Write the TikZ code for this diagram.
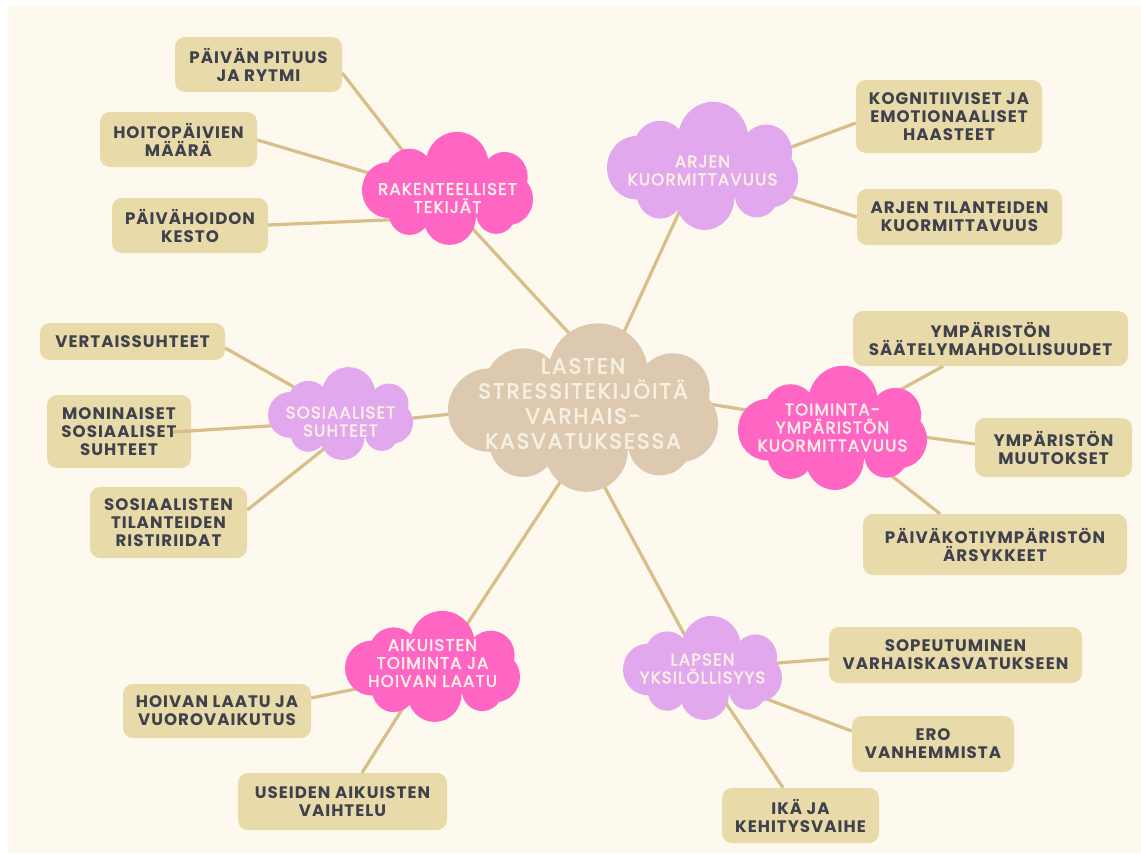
\documentclass[tikz,border=0pt]{standalone}
\usepackage{fontspec}
\setmainfont{Poppins}
\newfontfamily\boxfont[LetterSpace=6]{Poppins}
\newfontfamily\cloudfont[FakeBold=2.5,LetterSpace=7]{Poppins}
\newfontfamily\centfont[FakeBold=2.5,LetterSpace=9]{Poppins}
\usetikzlibrary{calc}
\definecolor{bgc}{HTML}{FDF9EE}
\definecolor{boxc}{HTML}{E8DAA9}
\definecolor{linec}{HTML}{D8BF8A}
\definecolor{txtc}{HTML}{3F414C}
\definecolor{pinkc}{HTML}{FF66C4}
\definecolor{lilacc}{HTML}{E2A8EE}
\definecolor{centc}{HTML}{DDC9AF}
\definecolor{ctxt}{HTML}{FCEFE6}
\definecolor{cctxt}{HTML}{F7EFE0}
\newcommand\cloudfill[4]{%
  \begin{scope}[shift={(#1)}, xscale=#2, yscale=#3/0.617]
    \fill[#4] (0.0556,-0.1296) circle[radius=0.185];
    \fill[#4] (-0.2222,-0.0802) circle[radius=0.142];
    \fill[#4] (0.333,-0.068) circle[radius=0.136];
    \fill[#4] (-0.346,0.006) circle[radius=0.154];
    \fill[#4] (0.358,0.056) circle[radius=0.142];
    \fill[#4] (-0.222,0.130) circle[radius=0.123];
    \fill[#4] (0.012,0.154) circle[radius=0.154];
    \fill[#4] (0.284,0.130) circle[radius=0.117];
    \fill[#4] (-0.346,-0.130) rectangle (0.358,0.154);
  \end{scope}}
\begin{document}
\begin{tikzpicture}[x=0.75pt,y=-0.75pt,
  bx/.style 2 args={fill=boxc, rounded corners=7.5pt, minimum width=#1*0.75pt, minimum height=#2*0.75pt, inner sep=0pt, align=center, text=txtc, font=\boxfont\bfseries\fontsize{12.5pt}{13.5pt}\selectfont},
  ctext/.style={align=center, text=ctxt, inner sep=0pt, font=\cloudfont\fontsize{12.5pt}{13.5pt}\selectfont},
  conn/.style={draw=linec, line width=2.4pt}]
\useasboundingbox (0,0) rectangle (1141,853);
\fill[white] (0,0) rectangle (1141,853);
\fill[bgc] (8,7) rectangle (1141,853);

% boxes
\node[bx={167}{55}] (b1) at (258.5,64.5) {PÄIVÄN PITUUS\\JA RYTMI};
\node[bx={157}{55}] (b2) at (178.5,139.5) {HOITOPÄIVIEN\\MÄÄRÄ};
\node[bx={156}{55}] (b3) at (190,225.5) {PÄIVÄHOIDON\\KESTO};
\node[bx={186}{73}] (b4) at (949,116.5) {KOGNITIIVISET JA\\EMOTIONAALISET\\HAASTEET};
\node[bx={205}{56}] (b5) at (959.5,217) {ARJEN TILANTEIDEN\\KUORMITTAVUUS};
\node[bx={275}{55}] (b6) at (990.5,338.5) {YMPÄRISTÖN\\SÄÄTELYMAHDOLLISUUDET};
\node[bx={157}{59}] (b7) at (1053.5,447.5) {YMPÄRISTÖN\\MUUTOKSET};
\node[bx={264}{61}] (b8) at (995,544.5) {PÄIVÄKOTIYMPÄRISTÖN\\ÄRSYKKEET};
\node[bx={253}{56}] (b9) at (955.5,655) {SOPEUTUMINEN\\VARHAISKASVATUKSEEN};
\node[bx={162}{56}] (b10) at (933,744) {ERO\\VANHEMMISTA};
\node[bx={157}{55}] (b11) at (800.5,815.5) {IKÄ JA\\KEHITYSVAIHE};
\node[bx={188}{54}] (b12) at (217,711) {HOIVAN LAATU JA\\VUOROVAIKUTUS};
\node[bx={209}{57}] (b13) at (342.5,801.5) {USEIDEN AIKUISTEN\\VAIHTELU};
\node[bx={185}{37}] (b14) at (132.5,341.5) {VERTAISSUHTEET};
\node[bx={144}{73}] (b15) at (119,431.5) {MONINAISET\\SOSIAALISET\\SUHTEET};
\node[bx={157}{71}] (b16) at (168.5,522.5) {SOSIAALISTEN\\TILANTEIDEN\\RISTIRIIDAT};

% cloud centres
\coordinate (cc) at (583,408.5);
\coordinate (rak) at (447.5,189);
\coordinate (arj) at (702.5,166.5);
\coordinate (toi) at (832.5,428.5);
\coordinate (sos) at (340.5,414);
\coordinate (lap) at (702.5,668.5);
\coordinate (aik) at (432.5,667);

% connectors
\draw[conn] ($(rak)+(12.5,26)$) -- ($(cc)+(7,-52.5)$);
\draw[conn] ($(arj)+(-21.5,41.5)$) -- ($(cc)+(35,-63.5)$);
\draw[conn] ($(toi)+(-67.5,-15.5)$) -- ($(cc)+(107,-7.5)$);
\draw[conn] ($(sos)+(54.5,6)$) -- ($(cc)+(-113,3.5)$);
\draw[conn] ($(aik)+(27.5,-32)$) -- ($(cc)+(-13,58.5)$);
\draw[conn] ($(lap)+(-12.5,-23.5)$) -- ($(cc)+(14,64.5)$);

\draw[conn] ($(b1.east)+(0,8.5)$) -- ($(rak)+(-18,-4)$);
\draw[conn] ($(b2.east)+(0,0.5)$) -- ($(rak)+(-7.5,5)$);
\draw[conn] ($(b3.east)+(0,-0.5)$) -- ($(rak)+(-7.5,28.7)$);
\draw[conn] ($(b4.west)+(0,6.5)$) -- ($(arj)+(67.5,-11.5)$);
\draw[conn] (b5.west) -- ($(arj)+(67.5,23.5)$);
\draw[conn] ($(b6.south)+(-47.5,0)$) -- ($(toi)+(37.5,-22)$);
\draw[conn] ($(b7.west)+(0,-3.5)$) -- ($(toi)+(47.5,2.5)$);
\draw[conn] ($(b8.north)+(-55,0)$) -- ($(toi)+(32.5,26.5)$);
\draw[conn] ($(b9.west)+(0,4)$) -- ($(lap)+(37.5,-2.5)$);
\draw[conn] ($(b10.west)+(0,-13)$) -- ($(lap)+(37.5,20.5)$);
\draw[conn] ($(b11.north)+(-17.5,0)$) -- ($(lap)+(14.5,21.5)$);
\draw[conn] ($(b12.east)+(0,-13)$) -- ($(aik)+(-42.5,15)$);
\draw[conn] ($(b13.north)+(19.5,0)$) -- ($(aik)+(-22.5,30)$);
\draw[conn] ($(b14.east)+(0,6.5)$) -- ($(sos)+(-25.5,-15)$);
\draw[conn] ($(b15.center)+(54,0.5)$) -- ($(sos)+(-40.5,10)$);
\draw[conn] ($(b16.east)+(0,-12.5)$) -- ($(sos)+(-10.5,30)$);

% clouds
\cloudfill{cc}{270}{167}{centc}
\cloudfill{rak}{171}{112}{pinkc}
\cloudfill{arj}{191}{127}{lilacc}
\cloudfill{toi}{189}{123}{pinkc}
\cloudfill{sos}{145}{92}{lilacc}
\cloudfill{lap}{159}{103}{lilacc}
\cloudfill{aik}{175}{110}{pinkc}

% cloud texts
\node[align=center, text=cctxt, inner sep=0pt, font=\centfont\fontsize{16.2pt}{18.75pt}\selectfont] (ccT) at ($(cc)+(0,-5)$) {LASTEN\\STRESSITEKIJÖITÄ\\VARHAIS-\\KASVATUKSESSA};
\node[ctext] (rakT) at ($(rak)+(0,9)$) {RAKENTEELLISET\\TEKIJÄT};
\node[ctext] (arjT) at ($(arj)+(0,4)$) {ARJEN\\KUORMITTAVUUS};
\node[ctext] (toiT) at ($(toi)+(0,-1)$) {TOIMINTA-\\YMPÄRISTÖN\\KUORMITTAVUUS};
\node[ctext] (sosT) at ($(sos)+(0,7.5)$) {SOSIAALISET\\SUHTEET};
\node[ctext] (lapT) at ($(lap)+(0,0)$) {LAPSEN\\YKSILÖLLISYYS};
\node[ctext] (aikT) at ($(aik)+(0,-4)$) {AIKUISTEN\\TOIMINTA JA\\HOIVAN LAATU};
\end{tikzpicture}
\end{document}
